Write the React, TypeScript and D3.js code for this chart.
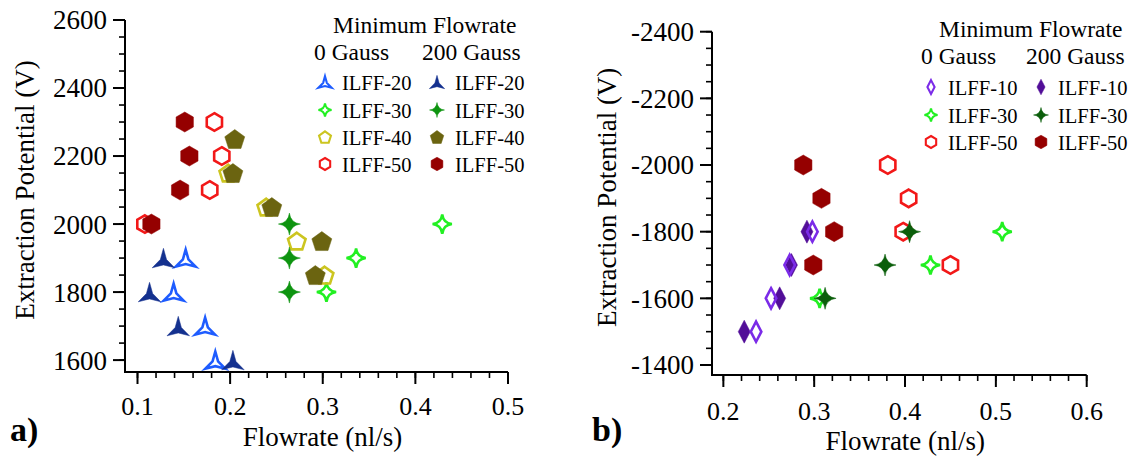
import React from "react";
import * as d3 from "d3";

// ---------- Data: panel a) (0 Gauss = open, 200 Gauss = filled) ----------
const a20OpenFlow = [0.152, 0.139, 0.173, 0.184];
const a20OpenPot = [1900, 1800, 1700, 1600];
const a20FilledFlow = [0.128, 0.113, 0.144, 0.203];
const a20FilledPot = [1900, 1800, 1700, 1600];
const a30OpenFlow = [0.429, 0.336, 0.304];
const a30OpenPot = [2000, 1900, 1800];
const a30FilledFlow = [0.264, 0.264, 0.264];
const a30FilledPot = [2000, 1900, 1800];
const a40OpenFlow = [0.198, 0.239, 0.272, 0.302];
const a40OpenPot = [2150, 2050, 1950, 1850];
const a40FilledFlow = [0.205, 0.203, 0.245, 0.299, 0.292];
const a40FilledPot = [2250, 2150, 2050, 1950, 1850];
const a50OpenFlow = [0.183, 0.191, 0.178, 0.108];
const a50OpenPot = [2300, 2200, 2100, 2000];
const a50FilledFlow = [0.151, 0.156, 0.146, 0.115];
const a50FilledPot = [2300, 2200, 2100, 2000];

// ---------- Data: panel b) ----------
const b10OpenFlow = [0.298, 0.273, 0.2525, 0.236];
const b10OpenPot = [-1800, -1700, -1600, -1500];
const b10FilledFlow = [0.292, 0.275, 0.262, 0.223];
const b10FilledPot = [-1800, -1700, -1600, -1500];
const b30OpenFlow = [0.507, 0.428, 0.306];
const b30OpenPot = [-1800, -1700, -1600];
const b30FilledFlow = [0.405, 0.378, 0.312];
const b30FilledPot = [-1800, -1700, -1600];
const b50OpenFlow = [0.381, 0.404, 0.398, 0.45];
const b50OpenPot = [-2000, -1900, -1800, -1700];
const b50FilledFlow = [0.288, 0.308, 0.322, 0.299];
const b50FilledPot = [-2000, -1900, -1800, -1700];

// ---------- Ticks ----------
const aXTicks = [0.1, 0.2, 0.3, 0.4, 0.5];
const aYTicks = [1600, 1800, 2000, 2200, 2400, 2600];
const bXTicks = [0.2, 0.3, 0.4, 0.5, 0.6];
const bYTicks = [-2400, -2200, -2000, -1800, -1600, -1400];

const FONT = "'Liberation Serif', 'Times New Roman', Times, serif";

type Shape = "tri" | "star4" | "pent" | "hex" | "diamond";

function shapePath(shape: Shape, s: number): string {
  const pts: [number, number][] = [];
  if (shape === "tri") {
    const R = 13 * s, r = 3.6 * s;
    for (let i = 0; i < 6; i++) {
      const ang = ((-90 + i * 60) * Math.PI) / 180;
      const rad = i % 2 === 0 ? R : r;
      pts.push([rad * Math.cos(ang), rad * Math.sin(ang) + R / 4]);
    }
    return "M" + pts.map((p) => p.join(",")).join("L") + "Z";
  }
  if (shape === "star4") {
    const R = 11 * s, k = 1.2 * s;
    return `M0,${-R}Q${k},${-k} ${R},0Q${k},${k} 0,${R}Q${-k},${k} ${-R},0Q${-k},${-k} 0,${-R}Z`;
  }
  if (shape === "pent") {
    const R = 10.5 * s;
    for (let i = 0; i < 5; i++) {
      const ang = ((-90 + i * 72) * Math.PI) / 180;
      pts.push([R * Math.cos(ang), R * Math.sin(ang) + R * 0.095]);
    }
    return "M" + pts.map((p) => p.join(",")).join("L") + "Z";
  }
  if (shape === "hex") {
    const R = 10 * s;
    for (let i = 0; i < 6; i++) {
      const ang = ((-90 + i * 60) * Math.PI) / 180;
      pts.push([R * Math.cos(ang), R * Math.sin(ang)]);
    }
    return "M" + pts.map((p) => p.join(",")).join("L") + "Z";
  }
  const w = 6 * s, h = 11.5 * s;
  return `M0,${-h}L${w},0L0,${h}L${-w},0Z`;
}

function Marker({ x, y, shape, color, open, scale = 1 }: { x: number; y: number; shape: Shape; color: string; open: boolean; scale?: number }) {
  const s = open ? scale * 0.88 : scale;
  return (
    <path
      d={shapePath(shape, s)}
      transform={`translate(${x},${y})`}
      fill={open ? "none" : color}
      stroke={color}
      strokeWidth={open ? 2.6 * Math.max(scale, 0.8) : 0.5}
      strokeLinejoin="miter"
    />
  );
}

type Series = { flow: number[]; pot: number[]; shape: Shape; color: string; open: boolean };

function range(a: number, b: number, step: number): number[] {
  const out: number[] = [];
  const n = Math.round((b - a) / step);
  for (let i = 0; i <= n; i++) out.push(+(a + i * step).toFixed(6));
  return out;
}

function Panel({
  x, y, xTicks, yTicks, xMinor, yMinor, series, yTitleX, yLabelEnd, xLabelBase, titleBase, fmtX,
}: {
  x: d3.ScaleLinear<number, number>;
  y: d3.ScaleLinear<number, number>;
  xTicks: number[]; yTicks: number[]; xMinor: number[]; yMinor: number[];
  series: Series[]; yTitleX: number; yLabelEnd: number; xLabelBase: number; titleBase: number;
  fmtX: (v: number) => string;
}) {
  const [x0, x1] = x.range();
  const [yb, yt] = y.range();
  return (
    <g>
      {/* data */}
      {series.map((s, si) =>
        s.flow.map((f, i) => (
          <Marker key={`${si}-${i}`} x={x(f)} y={y(s.pot[i])} shape={s.shape} color={s.color} open={s.open} />
        ))
      )}
      {/* axes */}
      <line x1={x0} x2={x1} y1={yb} y2={yb} stroke="#000" strokeWidth={2} />
      <line x1={x0} x2={x0} y1={yb + 1} y2={yt} stroke="#000" strokeWidth={2} />
      {xMinor.map((v) => (
        <line key={"xm" + v} x1={x(v)} x2={x(v)} y1={yb} y2={yb + 6} stroke="#000" strokeWidth={1.6} />
      ))}
      {xTicks.map((v) => (
        <g key={"xt" + v}>
          <line x1={x(v)} x2={x(v)} y1={yb} y2={yb + 12} stroke="#000" strokeWidth={2} />
          <text x={x(v)} y={xLabelBase} textAnchor="middle" fontSize={26} fontFamily={FONT}>{fmtX(v)}</text>
        </g>
      ))}
      {yMinor.map((v) => (
        <line key={"ym" + v} x1={x0} x2={x0 - 6} y1={y(v)} y2={y(v)} stroke="#000" strokeWidth={1.6} />
      ))}
      {yTicks.map((v) => (
        <g key={"yt" + v}>
          <line x1={x0} x2={x0 - 12} y1={y(v)} y2={y(v)} stroke="#000" strokeWidth={2} />
          <text x={yLabelEnd} y={y(v)} dy="0.35em" textAnchor="end" fontSize={27} fontFamily={FONT}>{String(v)}</text>
        </g>
      ))}
      <text x={x((x.domain()[0] + x.domain()[1]) / 2 + 0.0065)} y={titleBase} textAnchor="middle" fontSize={27} fontFamily={FONT}>
        Flowrate (nl/s)
      </text>
      <text transform={`translate(${yTitleX},${(yb + yt) / 2 - 6}) rotate(-90)`} textAnchor="middle" fontSize={27} fontFamily={FONT}>
        Extraction Potential (V)
      </text>
    </g>
  );
}

function Legend({
  titleX, titleY, h0X, h200X, hY, col1M, col1T, col2M, col2T, rowY, rows,
}: {
  titleX: number; titleY: number; h0X: number; h200X: number; hY: number;
  col1M: number; col1T: number; col2M: number; col2T: number; rowY: number[];
  rows: { label: string; shape: Shape; openColor: string; filledColor: string }[];
}) {
  return (
    <g fontFamily={FONT}>
      <text x={titleX} y={titleY} fontSize={23.5}>Minimum Flowrate</text>
      <text x={h0X} y={hY} fontSize={23.5}>0 Gauss</text>
      <text x={h200X} y={hY} fontSize={23.5}>200 Gauss</text>
      {rows.map((r, i) => (
        <g key={r.label + i}>
          <Marker x={col1M} y={rowY[i]} shape={r.shape} color={r.openColor} open={true} scale={0.68} />
          <text x={col1T} y={rowY[i] + 7.5} fontSize={20.5}>{r.label}</text>
          <Marker x={col2M} y={rowY[i]} shape={r.shape} color={r.filledColor} open={false} scale={0.68} />
          <text x={col2T} y={rowY[i] + 7.5} fontSize={20.5}>{r.label}</text>
        </g>
      ))}
    </g>
  );
}

const C = {
  blueOpen: "#1E5CFF",
  blueFilled: "#14318F",
  greenOpen: "#22F022",
  greenFilledA: "#0E9410",
  greenFilledB: "#0B5E0B",
  yellowOpen: "#CCC520",
  oliveFilled: "#6B6410",
  redOpen: "#F21818",
  redFilled: "#950000",
  purpleOpen: "#7B2BE8",
  purpleFilled: "#520E98",
};

export default function App() {
  const ax = d3.scaleLinear().domain([0.0865, 0.5]).range([125, 508]);
  const ay = d3.scaleLinear().domain([1565, 2600]).range([372, 20]);
  const bx = d3.scaleLinear().domain([0.1875, 0.6]).range([712, 1086.7]);
  const by = d3.scaleLinear().domain([-1370, -2400]).range([375, 31.7]);

  const aSeries: Series[] = [
    { flow: a20OpenFlow, pot: a20OpenPot, shape: "tri", color: C.blueOpen, open: true },
    { flow: a30OpenFlow, pot: a30OpenPot, shape: "star4", color: C.greenOpen, open: true },
    { flow: a40OpenFlow, pot: a40OpenPot, shape: "pent", color: C.yellowOpen, open: true },
    { flow: a50OpenFlow, pot: a50OpenPot, shape: "hex", color: C.redOpen, open: true },
    { flow: a20FilledFlow, pot: a20FilledPot, shape: "tri", color: C.blueFilled, open: false },
    { flow: a30FilledFlow, pot: a30FilledPot, shape: "star4", color: C.greenFilledA, open: false },
    { flow: a40FilledFlow, pot: a40FilledPot, shape: "pent", color: C.oliveFilled, open: false },
    { flow: a50FilledFlow, pot: a50FilledPot, shape: "hex", color: C.redFilled, open: false },
  ];
  const bSeries: Series[] = [
    { flow: b10FilledFlow, pot: b10FilledPot, shape: "diamond", color: C.purpleFilled, open: false },
    { flow: b10OpenFlow, pot: b10OpenPot, shape: "diamond", color: C.purpleOpen, open: true },
    { flow: b30OpenFlow, pot: b30OpenPot, shape: "star4", color: C.greenOpen, open: true },
    { flow: b50OpenFlow, pot: b50OpenPot, shape: "hex", color: C.redOpen, open: true },
    { flow: b30FilledFlow, pot: b30FilledPot, shape: "star4", color: C.greenFilledB, open: false },
    { flow: b50FilledFlow, pot: b50FilledPot, shape: "hex", color: C.redFilled, open: false },
  ];

  const fmt = (v: number) => String(v);

  return (
    <div style={{ position: "absolute", left: 0, top: 0, width: 1129, height: 457, background: "#fff" }}>
      <svg width={1129} height={457} style={{ display: "block" }}>
        <rect width={1129} height={457} fill="#fff" />
        <Panel
          x={ax} y={ay} xTicks={aXTicks} yTicks={aYTicks}
          xMinor={range(0.1, 0.5, 0.02)} yMinor={range(1600, 2600, 50)}
          series={aSeries} yTitleX={34} yLabelEnd={107} xLabelBase={415} titleBase={446} fmtX={fmt}
        />
        <Panel
          x={bx} y={by} xTicks={bXTicks} yTicks={bYTicks}
          xMinor={range(0.2, 0.6, 0.02)} yMinor={range(-2400, -1400, 50)}
          series={bSeries} yTitleX={616} yLabelEnd={694} xLabelBase={420} titleBase={450} fmtX={fmt}
        />
        <Legend
          titleX={333} titleY={33} h0X={314} h200X={422} hY={60}
          col1M={325} col1T={342} col2M={437} col2T={455}
          rowY={[82, 110, 137, 164]}
          rows={[
            { label: "ILFF-20", shape: "tri", openColor: C.blueOpen, filledColor: C.blueFilled },
            { label: "ILFF-30", shape: "star4", openColor: C.greenOpen, filledColor: C.greenFilledA },
            { label: "ILFF-40", shape: "pent", openColor: C.yellowOpen, filledColor: C.oliveFilled },
            { label: "ILFF-50", shape: "hex", openColor: C.redOpen, filledColor: C.redFilled },
          ]}
        />
        <Legend
          titleX={939} titleY={37} h0X={921} h200X={1026} hY={64}
          col1M={931} col1T={948} col2M={1041} col2T={1058}
          rowY={[87, 115, 142]}
          rows={[
            { label: "ILFF-10", shape: "diamond", openColor: C.purpleOpen, filledColor: C.purpleFilled },
            { label: "ILFF-30", shape: "star4", openColor: C.greenOpen, filledColor: C.greenFilledB },
            { label: "ILFF-50", shape: "hex", openColor: C.redOpen, filledColor: C.redFilled },
          ]}
        />
        <text x={10} y={441} fontSize={34} fontWeight="bold" fontFamily={FONT}>a)</text>
        <text x={592} y={441} fontSize={34} fontWeight="bold" fontFamily={FONT}>b)</text>
      </svg>
    </div>
  );
}
